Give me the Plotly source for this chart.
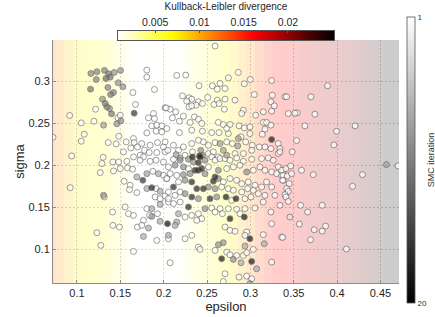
import numpy as np
import plotly.graph_objects as go

# ---------------- data ----------------
# background: KL divergence per epsilon bin
eps_bins = [0.07, 0.08, 0.09, 0.10, 0.11, 0.12, 0.13, 0.14, 0.15, 0.16, 0.17, 0.18, 0.19, 0.20,
            0.21, 0.22, 0.23, 0.24, 0.25, 0.26, 0.27, 0.28, 0.29, 0.30, 0.31, 0.32, 0.33, 0.34,
            0.35, 0.36, 0.37, 0.38, 0.39, 0.40, 0.41, 0.42, 0.43, 0.44, 0.45, 0.46, 0.47]
kl_values = [0.0120, 0.0105, 0.0090, 0.0075, 0.0068, 0.0065, 0.0062, 0.0050, 0.0035, 0.0020,
             0.0011, 0.0010, 0.0009, 0.0009, 0.0010, 0.0015, 0.0028, 0.0040, 0.0050, 0.0058,
             0.0066, 0.0080, 0.0095, 0.0110, 0.0130, 0.0145, 0.0158, 0.0160, 0.0165, 0.0175,
             0.0180, 0.0185, 0.0190, 0.0195, 0.0205, 0.0210, 0.0220, 0.0230, 0.0240, 0.0250, 0.0250]

# particles: (epsilon, sigma, SMC iteration)
particles = [
    (0.1806,0.3135,1),(0.1806,0.3051,1),(0.1894,0.2904,1),(0.1645,0.2868,1),
    (0.1161,0.3095,10),(0.1230,0.3115,10),(0.1318,0.3131,10),(0.1365,0.3091,11),(0.1430,0.3107,9),
    (0.1503,0.3131,9),(0.1334,0.3035,12),(0.1384,0.3051,11),(0.1223,0.3023,10),(0.1476,0.2984,9),
    (0.1530,0.2936,9),(0.1157,0.2908,11),(0.1357,0.2928,10),(0.1422,0.2868,10),(0.1388,0.2844,11),
    (0.1295,0.2789,9),(0.1326,0.2737,11),(0.1345,0.2697,10),(0.1376,0.2677,9),(0.1399,0.2614,11),
    (0.1215,0.2669,1),(0.1675,0.2725,1),(0.1660,0.2622,16),(0.1472,0.2566,1),(0.1499,0.2598,1),
    (0.1507,0.2530,9),(0.1460,0.2495,9),(0.1307,0.2479,8),(0.1196,0.2526,1),(0.1050,0.2506,1),
    (0.0916,0.2594,1),(0.0724,0.2335,1),(0.1084,0.2371,1),(0.1050,0.2288,1),(0.1361,0.2272,1),
    (0.1453,0.2256,1),(0.1483,0.2347,1),(0.1568,0.2280,1),(0.0939,0.2113,1),(0.1303,0.2097,1),
    (0.1537,0.2161,1),(0.1652,0.2320,1),(0.1825,0.2566,1),(0.1883,0.2618,1),(0.1894,0.2558,1),
    (0.2017,0.2685,1),(0.1806,0.2387,1),(0.1863,0.2471,1),(0.1921,0.2479,1),(0.1979,0.2471,1),
    (0.2036,0.2439,1),(0.1913,0.2407,1),(0.1979,0.2399,1),(0.1660,0.2272,1),(0.1698,0.2220,1),
    (0.1622,0.2208,1),(0.1748,0.2260,1),(0.1844,0.2240,1),(0.1929,0.2272,1),(0.1998,0.2220,1),
    (0.1779,0.2180,1),(0.1833,0.2153,1),(0.1729,0.2121,1),(0.1921,0.2153,1),(0.2017,0.2161,1),
    (0.1652,0.2101,1),
    (0.2593,0.3421,1),(0.2151,0.3071,1),(0.2255,0.3075,1),(0.2408,0.2948,1),(0.2562,0.2948,1),
    (0.2650,0.2976,1),(0.2619,0.2908,1),(0.2708,0.2916,1),(0.2746,0.3043,1),(0.2861,0.3107,1),
    (0.2930,0.2972,1),(0.2999,0.3023,1),(0.3245,0.3011,1),(0.3045,0.2844,1),(0.3253,0.2836,1),
    (0.2217,0.2828,1),(0.2293,0.2805,1),(0.2324,0.2789,1),(0.2266,0.2765,1),(0.2401,0.2757,1),
    (0.2374,0.2717,1),(0.2447,0.2737,1),(0.2508,0.2809,1),(0.2619,0.2777,1),(0.2708,0.2789,1),
    (0.2581,0.2725,1),(0.2639,0.2737,1),(0.2823,0.2777,1),(0.2700,0.2669,1),(0.2919,0.2658,1),
    (0.2900,0.2618,1),(0.3061,0.2598,1),(0.3149,0.2638,1),(0.3245,0.2646,1),(0.3237,0.2757,1),
    (0.3276,0.2709,1),(0.3399,0.2817,1),(0.2293,0.2697,1),(0.2324,0.2709,1),(0.2140,0.2638,1),
    (0.2075,0.2669,1),(0.2029,0.2685,1),(0.2101,0.2566,1),(0.2182,0.2526,1),(0.2228,0.2586,1),
    (0.2355,0.2578,1),(0.2401,0.2550,1),(0.2305,0.2511,1),(0.2439,0.2499,1),(0.2631,0.2511,1),
    (0.2688,0.2487,1),(0.2765,0.2487,1),(0.2869,0.2471,1),(0.2930,0.2447,1),(0.2995,0.2459,1),
    (0.3149,0.2511,1),(0.3187,0.2511,1),(0.3237,0.2479,1),(0.3168,0.2431,1),(0.3137,0.2371,1),
    (0.2995,0.2379,1),(0.2892,0.2340,1),(0.2861,0.2320,8),(0.2746,0.2379,1),(0.2727,0.2439,1),
    (0.2639,0.2391,1),(0.2554,0.2391,1),(0.2447,0.2407,1),(0.2324,0.2419,1),(0.2182,0.2391,1),
    (0.3245,0.2308,18),(0.3322,0.2260,1),(0.3341,0.2200,1),(0.3322,0.2141,1),(0.3237,0.2200,1),
    (0.3168,0.2220,1),(0.3103,0.2220,1),(0.3022,0.2240,1),(0.2946,0.2280,1),(0.3015,0.2180,1),
    (0.2919,0.2141,1),(0.2823,0.2141,1),(0.2792,0.2260,1),(0.2727,0.2280,1),(0.2650,0.2260,8),
    (0.2593,0.2272,1),(0.2516,0.2240,1),(0.2458,0.2280,1),(0.2401,0.2300,1),(0.2324,0.2260,1),
    (0.2228,0.2220,1),(0.2171,0.2180,1),(0.2113,0.2240,1),(0.2048,0.2180,1),(0.2017,0.2280,1),
    (0.2332,0.2161,1),(0.2428,0.2180,9),(0.2447,0.2121,10),(0.2412,0.2113,17),(0.2332,0.2101,18),
    (0.2247,0.2121,1),(0.2144,0.2129,8),(0.2190,0.2089,7),(0.2516,0.2141,1),(0.2573,0.2161,1),
    (0.2688,0.2180,8),(0.2631,0.2101,1),(0.2727,0.2121,8),(0.2854,0.2232,8),
    (0.3890,0.2948,1),(0.3418,0.2817,1),(0.3698,0.2817,1),(0.3437,0.2618,1),(0.3541,0.2626,1),
    (0.3514,0.2622,1),(0.3744,0.2610,1),(0.3629,0.2471,1),(0.3993,0.2407,1),(0.4208,0.2471,1),
    (0.3533,0.2296,1),(0.3963,0.2244,1),(0.3483,0.2161,1),(0.3341,0.2161,1),
    (0.1288,0.2022,1),(0.1414,0.2041,1),(0.1480,0.2041,1),(0.1576,0.2049,1),(0.1269,0.1914,1),
    (0.1422,0.1934,1),(0.1499,0.1962,1),(0.1583,0.1970,1),(0.1641,0.1954,1),(0.0923,0.1735,1),
    (0.1307,0.1644,9),(0.1315,0.1624,1),(0.1411,0.1445,1),(0.1556,0.1505,1),(0.1595,0.1425,1),
    (0.1652,0.1405,1),(0.1414,0.1286,1),(0.1491,0.1266,1),(0.1230,0.1199,1),(0.1276,0.1048,1),
    (0.1652,0.0976,1),(0.2074,0.0841,1),(0.1767,0.2101,1),(0.1844,0.2049,1),(0.1729,0.2061,1),
    (0.1913,0.2061,1),(0.1998,0.2041,1),(0.1691,0.1863,7),(0.1760,0.1823,16),(0.1806,0.1902,8),
    (0.1875,0.1930,1),(0.1940,0.1902,7),(0.1998,0.1882,1),(0.2036,0.1843,1),(0.1545,0.1811,1),
    (0.1614,0.1763,1),(0.1606,0.1712,1),(0.1691,0.1676,1),(0.1806,0.1724,7),(0.1863,0.1735,17),
    (0.1913,0.1724,1),(0.1959,0.1692,7),(0.1902,0.1624,1),(0.1959,0.1604,1),(0.2017,0.1636,1),
    (0.1959,0.1537,7),(0.2055,0.1564,1),(0.1806,0.1485,1),(0.1863,0.1485,7),(0.1837,0.1405,1),
    (0.1863,0.1393,9),(0.1929,0.1425,1),(0.1959,0.1334,7),(0.2044,0.1306,19),(0.1767,0.1346,1),
    (0.1698,0.1266,1),(0.1748,0.1286,1),(0.1825,0.1254,7),(0.1767,0.1155,7),(0.1921,0.1107,1),
    (0.2055,0.1167,7),(0.2055,0.1127,1),
    (0.2113,0.2073,1),(0.2190,0.2061,9),(0.2286,0.2073,9),(0.2343,0.2041,9),(0.2420,0.2101,17),
    (0.2401,0.2033,17),(0.2477,0.2061,9),(0.2554,0.2101,1),(0.2593,0.2061,1),(0.2650,0.2081,1),
    (0.2708,0.2081,1),(0.2765,0.2061,1),(0.2842,0.2089,1),(0.2919,0.2049,1),(0.3015,0.2073,1),
    (0.3130,0.2081,1),(0.3207,0.2089,1),(0.3264,0.2061,1),(0.3322,0.1982,1),(0.3379,0.1942,1),
    (0.2055,0.1982,1),(0.2132,0.2002,9),(0.2228,0.1982,9),(0.2286,0.1962,1),(0.2362,0.1942,17),
    (0.2401,0.1942,17),(0.2439,0.1962,17),(0.2516,0.1982,1),(0.2631,0.1942,9),(0.2727,0.1962,1),
    (0.2804,0.1982,1),(0.2880,0.2002,1),(0.2957,0.1922,9),(0.3034,0.1942,1),(0.3111,0.1982,1),
    (0.3168,0.1942,1),(0.3245,0.1922,1),(0.3302,0.1902,1),(0.3360,0.1882,1),(0.3379,0.1823,1),
    (0.2075,0.1902,1),(0.2151,0.1882,1),(0.2228,0.1890,9),(0.2305,0.1902,9),(0.2477,0.1902,9),
    (0.2593,0.1863,17),(0.2573,0.1811,17),(0.2631,0.1843,9),(0.2688,0.1803,1),(0.2765,0.1843,1),
    (0.2842,0.1823,1),(0.2900,0.1783,1),(0.2976,0.1803,1),(0.3053,0.1763,1),(0.3130,0.1743,1),
    (0.3187,0.1803,1),(0.3245,0.1743,1),(0.2036,0.1843,1),(0.2113,0.1743,17),(0.2171,0.1803,1),
    (0.2247,0.1823,9),(0.2324,0.1803,17),(0.2382,0.1723,17),(0.2458,0.1723,17),(0.2516,0.1743,9),
    (0.2593,0.1723,9),(0.2669,0.1743,1),(0.2746,0.1723,1),(0.2804,0.1704,1),(0.2900,0.1684,1),
    (0.2969,0.1723,1),(0.3034,0.1704,1),(0.3091,0.1664,1),(0.3168,0.1644,1),(0.3283,0.1644,1),
    (0.3341,0.1525,1),(0.2055,0.1684,1),(0.2055,0.1604,1),(0.2132,0.1644,1),(0.2190,0.1684,1),
    (0.2247,0.1664,9),(0.2324,0.1624,17),(0.2401,0.1604,9),(0.2535,0.1604,17),(0.2612,0.1624,9),
    (0.2719,0.1624,18),(0.2834,0.1604,18),(0.2784,0.1584,1),(0.2938,0.1604,1),(0.3007,0.1624,1),
    (0.3149,0.1564,1),(0.2113,0.1545,1),(0.2190,0.1564,1),(0.2286,0.1505,17),(0.2477,0.1485,9),
    (0.2554,0.1493,1),(0.2650,0.1485,1),(0.2746,0.1485,1),(0.2842,0.1477,1),(0.2938,0.1485,1),
    (0.3053,0.1493,1),(0.3237,0.1445,1),(0.2171,0.1425,7),(0.2247,0.1385,1),(0.2324,0.1405,1),
    (0.2401,0.1425,1),(0.2439,0.1366,1),(0.2593,0.1445,1),(0.2677,0.1425,1),(0.2765,0.1366,18),
    (0.2930,0.1385,18),(0.2880,0.1425,1),(0.2151,0.1326,7),(0.2132,0.1286,7),(0.2382,0.1346,1),
    (0.2324,0.1167,1),(0.2247,0.1127,1),(0.2401,0.1028,1),(0.2420,0.1000,1),(0.2708,0.1266,1),
    (0.2765,0.1226,1),(0.2823,0.1215,1),(0.2957,0.1207,1),(0.2938,0.1167,1),(0.2995,0.1127,18),
    (0.3149,0.1175,1),(0.3245,0.1306,1),(0.3360,0.1147,1),(0.2688,0.1080,9),(0.2631,0.1056,9),
    (0.2593,0.0988,1),(0.2669,0.0889,18),(0.2727,0.0968,1),(0.2765,0.0936,1),(0.2804,0.0881,9),
    (0.2842,0.0928,1),(0.2892,0.0841,7),(0.2938,0.1040,7),(0.2919,0.0928,1),(0.2957,0.0960,1),
    (0.3034,0.1000,1),(0.3015,0.0857,18),(0.3072,0.0769,7),(0.3160,0.1068,7),(0.3245,0.0849,1),
    (0.2708,0.0710,1),(0.2869,0.0670,1),(0.2957,0.0682,1),(0.3015,0.0650,1),(0.2995,0.0590,7),
    (0.2688,0.0618,1),
    (0.3360,0.1942,1),(0.3410,0.1962,1),(0.3464,0.1994,1),(0.3379,0.1882,1),(0.3425,0.1874,1),
    (0.3475,0.1902,1),(0.3372,0.1823,1),(0.3448,0.1783,1),(0.3418,0.1723,1),(0.3437,0.1692,1),
    (0.3399,0.1652,1),(0.3410,0.1624,1),(0.3437,0.1572,1),(0.3590,0.1942,1),(0.3725,0.1890,1),
    (0.4293,0.1890,1),(0.4178,0.1751,1),(0.4569,0.2010,8),(0.4703,0.1994,1),(0.3579,0.1525,1),
    (0.3828,0.1525,1),(0.3660,0.1445,1),(0.3456,0.1385,3),(0.3564,0.1302,1),(0.3736,0.1234,1),
    (0.3867,0.1278,1),(0.3828,0.1218,1),(0.3694,0.1115,1),(0.3372,0.1143,1),(0.4108,0.1004,1),
]
particles = sorted(particles, key=lambda p: p[2])
epsilon = [p[0] for p in particles]
sigma = [p[1] for p in particles]
iteration = [p[2] for p in particles]

iter_ticks = [1, 20]
x_ticks = [0.1, 0.15, 0.2, 0.25, 0.3, 0.35, 0.4, 0.45]
x_ticktext = ["0.1", "0.15", "0.2", "0.25", "0.3", "0.35", "0.4", "0.45"]
y_ticks = [0.1, 0.15, 0.2, 0.25, 0.3]
y_ticktext = ["0.1", "0.15", "0.2", "0.25", "0.3"]
kl_ticks = [0.005, 0.01, 0.015, 0.02]
kl_ticktext = ["0.005", "0.01", "0.015", "0.02"]
kl_range = [0.0008, 0.0252]
x_range = [0.0724, 0.4714]
y_range = [0.0600, 0.3493]

# ---------------- styling ----------------
hot_r = [[0.0, "#ffffff"], [0.25, "#ffff00"], [0.625, "#ff0000"], [1.0, "#000000"]]
# colour bar runs 1 (white, top) -> 20 (black, bottom): use negated iteration so 1 is on top
gray_scale = [[0.0, "#000000"], [1.0, "#ffffff"]]
FONT = "Liberation Sans, Arial, Helvetica, sans-serif"
TXT = "#262626"
GRID = "#d2d2d2"

fig = go.Figure()

# background KL stripes
fig.add_trace(go.Heatmap(
    x=eps_bins, y=[y_range[0] - 0.05, y_range[1] + 0.05],
    z=[kl_values, kl_values],
    colorscale=hot_r, zmin=kl_range[0], zmax=kl_range[1],
    opacity=0.2, showscale=False, hoverinfo="skip",
    xaxis="x", yaxis="y",
))

# particles
fig.add_trace(go.Scatter(
    x=epsilon, y=sigma, mode="markers",
    customdata=iteration,
    hovertemplate="epsilon=%{x}<br>sigma=%{y}<br>iteration=%{customdata}<extra></extra>",
    marker=dict(
        size=6, color=[-v for v in iteration], colorscale=gray_scale,
        cmin=-max(iter_ticks), cmax=-min(iter_ticks),
        opacity=0.72, line=dict(color="#555555", width=0.8),
        colorbar=dict(
            orientation="v", thickness=8, lenmode="pixels", len=286,
            x=1.0222, xanchor="left", xpad=0, y=0.9398, yanchor="top", ypad=0,
            tickvals=[-v for v in iter_ticks], ticktext=[str(v) for v in iter_ticks], ticks="",
            tickfont=dict(size=8, color="#333333", family=FONT),
            outlinecolor="#555555", outlinewidth=0.8,
            title=dict(text="SMC iteration", side="right",
                       font=dict(size=9, color="#333333", family=FONT)),
        ),
    ),
    xaxis="x", yaxis="y", showlegend=False,
))

# top colour bar for KL divergence (drawn as a gradient on its own axis)
kl_grad = np.linspace(kl_range[0], kl_range[1], 256)
fig.add_trace(go.Heatmap(
    x=kl_grad, y=[0, 1], z=[kl_grad, kl_grad],
    colorscale=hot_r, zmin=kl_range[0], zmax=kl_range[1],
    showscale=False, hoverinfo="skip", xaxis="x2", yaxis="y2",
))

H_PLOT = 283.0
fig.update_layout(
    width=435, height=317,
    margin=dict(l=53, r=36, t=0, b=34, autoexpand=False),
    paper_bgcolor="white", plot_bgcolor="white",
    font=dict(family=FONT, color=TXT),
    xaxis=dict(
        domain=[0, 1], range=x_range, tickvals=x_ticks, ticktext=x_ticktext,
        showgrid=True, gridcolor=GRID, griddash="2px,2px", gridwidth=1,
        zeroline=False, showline=True, linecolor="#8c8c8c", linewidth=1,
        ticks="inside", ticklen=3, tickcolor="#8c8c8c",
        tickfont=dict(size=11, color=TXT), anchor="y", automargin=False,
        title=dict(text="epsilon", font=dict(size=13, color=TXT), standoff=1),
    ),
    yaxis=dict(
        domain=[0, (H_PLOT - 40) / H_PLOT], range=y_range, tickvals=y_ticks, ticktext=y_ticktext,
        showgrid=True, gridcolor=GRID, griddash="2px,2px", gridwidth=1,
        zeroline=False, showline=True, linecolor="#8c8c8c", linewidth=1,
        ticks="inside", ticklen=3, tickcolor="#8c8c8c",
        tickfont=dict(size=11, color=TXT), anchor="x", automargin=False,
        title=dict(text="sigma", font=dict(size=13, color=TXT), standoff=0),
    ),
    xaxis2=dict(
        domain=[(118 - 53) / 346, (334 - 53) / 346], range=kl_range, anchor="y2", side="top",
        tickvals=kl_ticks, ticktext=kl_ticktext, ticks="inside", ticklen=2, tickcolor="#555555",
        showline=True, mirror=True, linecolor="#555555", linewidth=0.8,
        showgrid=False, zeroline=False, automargin=False,
        tickfont=dict(size=10.5, color=TXT),
        title=dict(text="Kullback-Leibler divergence", font=dict(size=10, color=TXT), standoff=3),
    ),
    yaxis2=dict(
        domain=[(H_PLOT - 40) / H_PLOT, (H_PLOT - 31) / H_PLOT], range=[0, 1], anchor="x2",
        showline=True, mirror=True, linecolor="#555555", linewidth=0.8,
        showticklabels=False, ticks="", showgrid=False, zeroline=False, automargin=False,
    ),
)

fig.write_html(
    "out.html",
    config={"displayModeBar": False},
    post_script="document.body.style.margin='0';document.body.style.overflow='hidden';",
)
